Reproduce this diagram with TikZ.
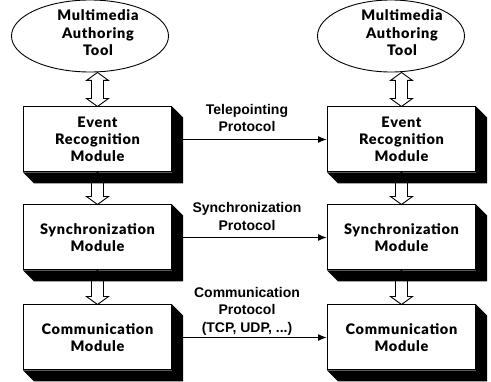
\documentclass[tikz,border=0pt]{standalone}
\usepackage{fontspec}
\setmainfont{Liberation Sans}
\newfontfamily\heavyfont{Lato Black}[LetterSpace=5]
\newfontfamily\labelfont{Liberation Sans Bold}
\usetikzlibrary{shapes.geometric,arrows.meta,calc}
\tikzset{
  modbox/.style={draw, line width=1pt, fill=white, minimum width=148pt, minimum height=65pt,
    align=center, inner sep=0pt, font=\heavyfont\fontsize{14.5}{17}\selectfont},
  toolell/.style={draw, ellipse, line width=0.9pt, minimum height=72pt, inner sep=0pt},
  tooltext/.style={align=center, inner sep=0pt, font=\heavyfont\fontsize{14.5}{17.5}\selectfont},
  plabel/.style={align=center, inner sep=0pt, font=\labelfont\fontsize{14}{17.5}\selectfont},
  link/.style={line width=1.4pt, -{Latex[length=9pt,width=7pt]}},
  hollow/.style={draw, fill=white, line width=0.9pt, line join=miter},
}
\newcommand\shadowof[1]{\fill ($(#1.north east)$) -- ++(11pt,-11pt) -- ($(#1.south east)+(11pt,-11pt)$) -- ($(#1.south west)+(11pt,-11pt)$) -- (#1.south west) -- (#1.south east) -- cycle;}
\newcommand\hollowarrow[2]{\path[hollow] let \p1=(#1), \p2=(#2) in
  (\x1,\y1) -- (\x1+11pt,\y1-8pt) -- (\x1+6pt,\y1-8pt) -- (\x1+6pt,\y2+8pt) -- (\x1+11pt,\y2+8pt)
  -- (\x1,\y2) -- (\x1-11pt,\y2+8pt) -- (\x1-6pt,\y2+8pt) -- (\x1-6pt,\y1-8pt) -- (\x1-11pt,\y1-8pt) -- cycle;}
\begin{document}
\begin{tikzpicture}[x=1pt,y=-1pt]
\useasboundingbox (0,0) rectangle (491,382);
% tools
\node[toolell, minimum width=157pt] (t1) at (90,36) {};
\node[tooltext] (tt1) at (98,33) {Multimedia\\Authoring\\Tool};
\node[toolell, minimum width=147pt] (t2) at (391,36) {};
\node[tooltext] (tt2) at (402,33) {Multimedia\\Authoring\\Tool};
% modules
\node[modbox] (e1) at (97.5,139.5) {Event\\Recognition\\Module};
\node[modbox] (s1) at (97.5,237.5) {Synchronization\\Module};
\node[modbox] (c1) at (97.5,337.5) {Communication\\Module};
\node[modbox] (e2) at (401.5,139.5) {Event\\Recognition\\Module};
\node[modbox] (s2) at (401.5,237.5) {Synchronization\\Module};
\node[modbox] (c2) at (401.5,337.5) {Communication\\Module};
% labels
\node[plabel] (l1) at (247,118) {Telepointing\\Protocol};
\node[plabel] (l2) at (247,216.5) {Synchronization\\Protocol};
\node[plabel] (l3) at (247,311) {Communication\\Protocol\\(TCP, UDP, ...)};
% hollow arrows
\hollowarrow{e1.north |- t1.south}{e1.north}
\hollowarrow{e1.south}{s1.north}
\hollowarrow{s1.south}{c1.north}
\hollowarrow{e2.north |- t2.south}{e2.north}
\hollowarrow{e2.south}{s2.north}
\hollowarrow{s2.south}{c2.north}
% protocol links
\draw[link] (e1.east) -- (e2.west);
\draw[link] (s1.east) -- (s2.west);
\draw[link] (c1.east) -- (c2.west);
% shadows
\shadowof{e1}\shadowof{s1}\shadowof{c1}
\shadowof{e2}\shadowof{s2}\shadowof{c2}
\end{tikzpicture}
\end{document}
